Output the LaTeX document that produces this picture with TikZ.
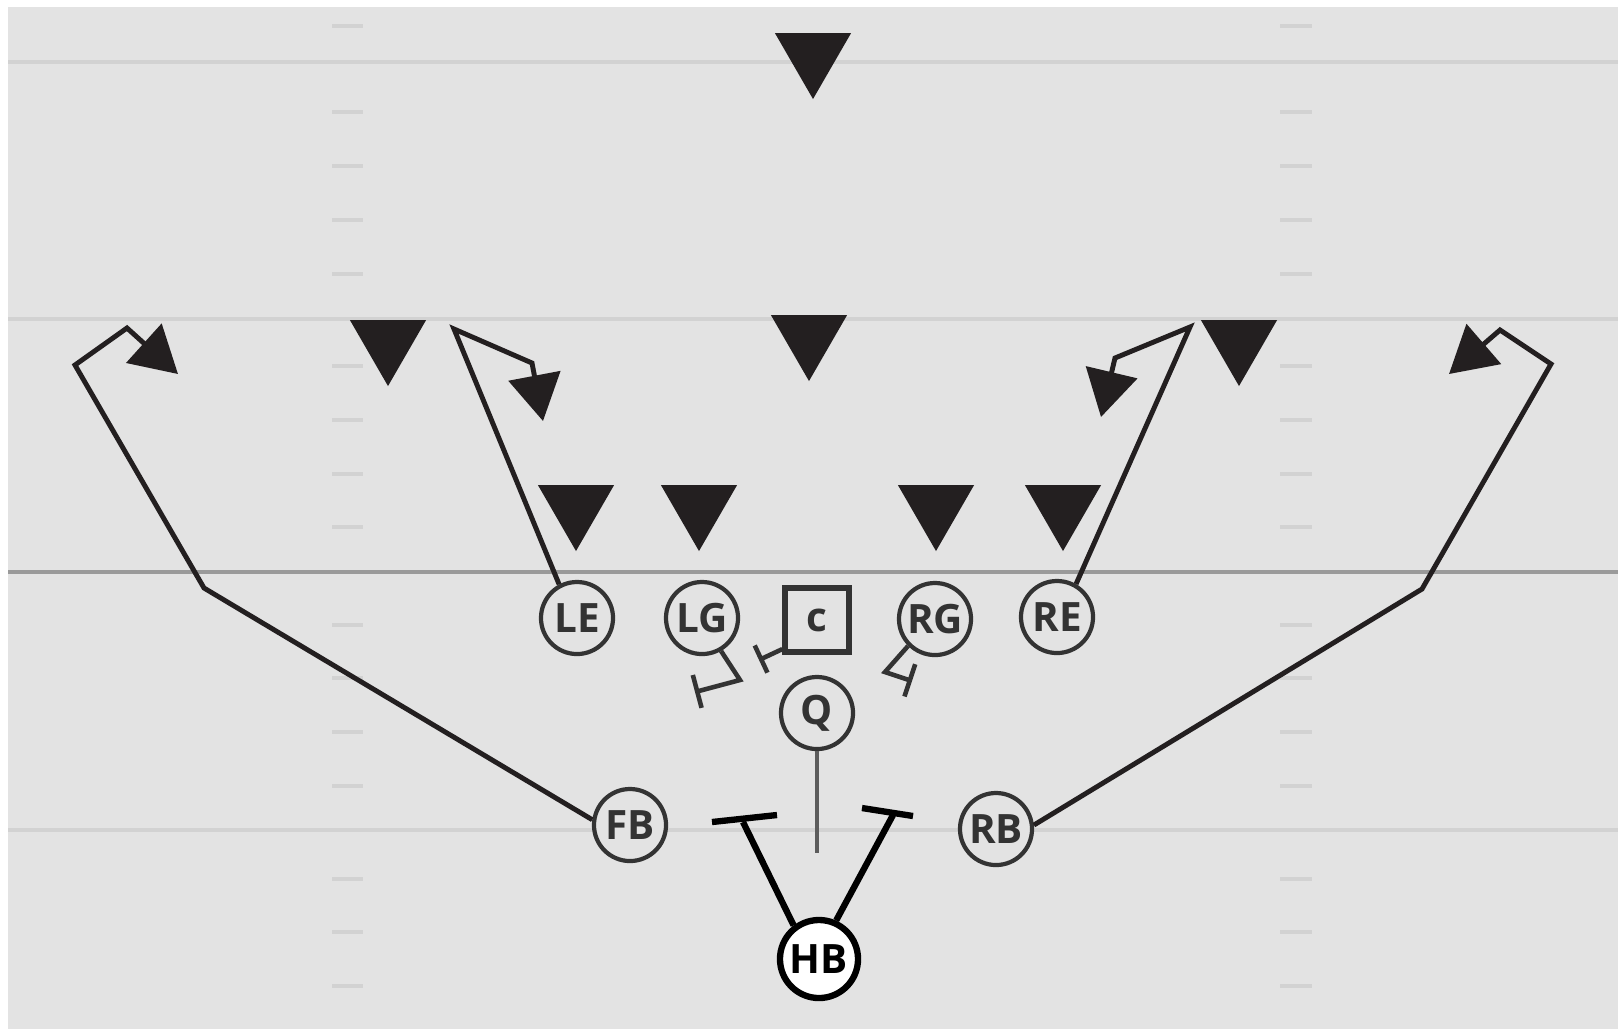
\documentclass[tikz,border=0pt]{standalone}
\usepackage{fontspec}
\setmainfont{Open Sans}
\usepackage{tikz}
\usetikzlibrary{arrows.meta, shapes.geometric}
\definecolor{turf}{HTML}{E3E3E3}
\definecolor{yardline}{HTML}{D2D2D2}
\definecolor{scrimmage}{HTML}{9A9A9A}
\definecolor{ink}{HTML}{231F20}
\definecolor{chalk}{HTML}{333333}

\begin{document}
\begin{tikzpicture}[x=0.01cm, y=-0.01cm, >={Triangle[length=0.46cm, width=0.52cm]},
    player/.style={draw=chalk, circle, line width=1.2pt, fill=turf, minimum size=0.72cm, inner sep=0pt, text=chalk, font=\fontsize{11.5}{11.5}\selectfont\bfseries},
    defender/.style={fill=ink, regular polygon, regular polygon sides=3, shape border rotate=180, minimum size=0.88cm, inner sep=0pt},
    route/.style={draw=ink, line width=1.4pt, line join=miter},
    block/.style={draw=chalk, line width=1.3pt, -{Bar[width=0.34cm]}},
    hbblock/.style={draw=black, line width=1.8pt}]
    \useasboundingbox (0,0) rectangle (1618,1029);
    \fill[white] (0,0) rectangle (1618,1029);
    \fill[turf] (8,7) rectangle (1618,1029);

    % yard lines and hashes
    \draw[yardline, line width=1pt] (8,62) -- (1618,62) (8,319) -- (1618,319) (8,830) -- (1618,830);
    \draw[scrimmage, line width=1.4pt] (8,572) -- (1618,572);
    \foreach \y in {26,112,166,220,274,366,420,474,527,625,678,732,786,879,932,986}
        \draw[yardline, line width=1pt] (332,\y) -- (363,\y) (1280,\y) -- (1312,\y);

    % defense
    \draw (813,55) node[defender] (fs) {};
    \draw (388,342) node[defender] (lcb) {};
    \draw (809,337) node[defender] (mlb) {};
    \draw (1239,342) node[defender] (rcb) {};
    \draw (576,507) node[defender] (lde) {};
    \draw (699,507) node[defender] (ldt) {};
    \draw (936,507) node[defender] (rdt) {};
    \draw (1063,507) node[defender] (rde) {};

    % offense
    \draw (577,618) node[player] (le) {LE};
    \draw (702,618) node[player] (lg) {LG};
    \draw (817,620) node[player, rectangle, line width=1.5pt, minimum size=0.64cm] (c) {c};
    \draw (935,619) node[player] (rg) {RG};
    \draw (1057,617) node[player] (re) {RE};
    \draw (817,713) node[player] (q) {Q};
    \draw (630,825) node[player] (fb) {FB};
    \draw (996,829) node[player] (rb) {RB};
    \draw (819,959) node[player, draw=black, fill=white, text=black, line width=1.8pt, minimum size=0.78cm] (hb) {HB};

	% routes
	\draw[route, ->] (fb.172) -- (204,588) -- (75,365) -- (127,328) -- (178,374);
	\draw[route, ->] (le.118) -- (454,329) -- (532,363) -- (543,421);
	\draw[route, ->] (re.60) -- (1190,327) -- (1115,358) -- (1101,417);
	\draw[route, ->] (rb.6) -- (1422,589) -- (1551,364) -- (1500,330) -- (1449,374);

	% blocks
	\draw[block] (lg.-60) -- (740,680) -- (695,692);
	\draw[block, -{Bar[width=0.3cm]}] (c.-140) -- (759,660);
	\draw[block] (rg.-135) -- (885,672) -- (912,681);
	\coordinate (qend) at (817,853);
	\draw[draw=chalk!80!white, line width=1.3pt] (q) -- (qend);

	\coordinate (hbl) at (743,822);
	\coordinate (hbr) at (893,815);
	\draw[hbblock] (hb.127) -- (hbl);
	\draw[hbblock] (hbl) ++(-31,0) -- ++(65,-7);
	\draw[hbblock] (hb.66) -- (hbr);
	\draw[hbblock] (hbr) ++(-31,-7) -- ++(51,8);
\end{tikzpicture}
\end{document}
